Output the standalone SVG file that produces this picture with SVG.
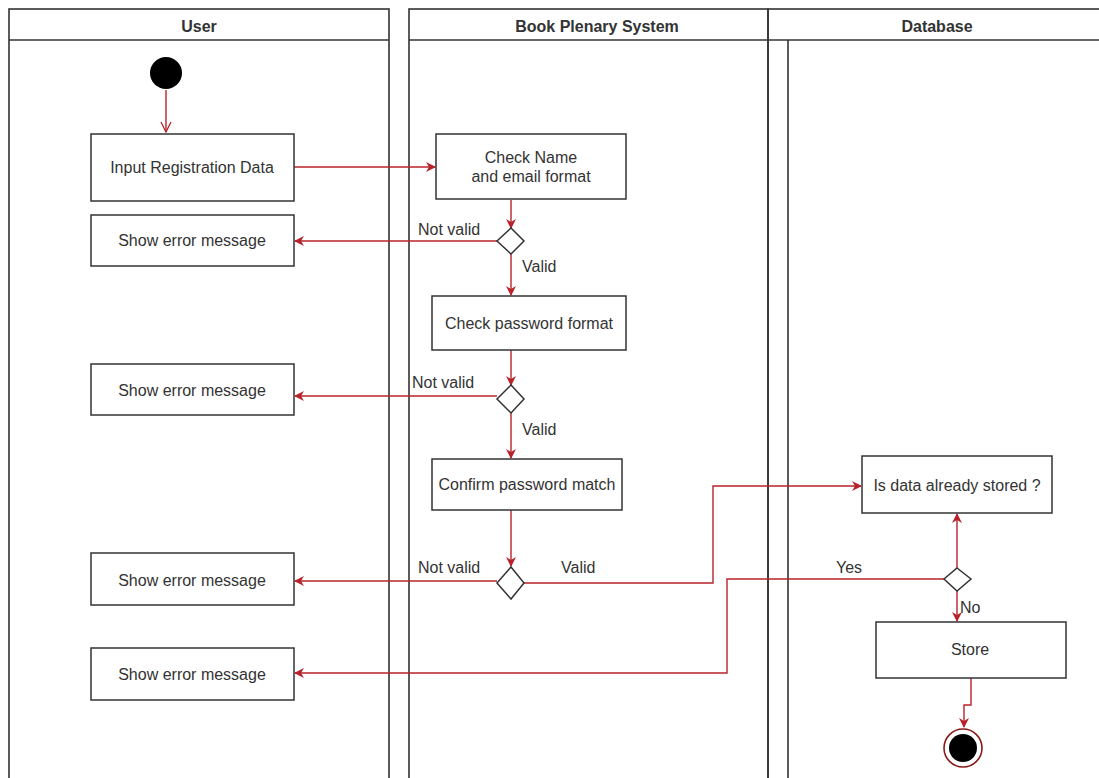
<svg xmlns="http://www.w3.org/2000/svg" width="1099" height="778" viewBox="0 0 1099 778">
<defs>
<style>
.lane{fill:none;stroke:#333;stroke-width:1.6}
.box{fill:#fff;stroke:#333;stroke-width:1.5}
.dia{fill:#fff;stroke:#333;stroke-width:1.5}
.t{font-family:"Liberation Sans",Arial,sans-serif;font-size:16px;fill:#333;text-anchor:middle}
.h{font-family:"Liberation Sans",Arial,sans-serif;font-size:16px;font-weight:bold;fill:#333;text-anchor:middle}
.lbl{font-family:"Liberation Sans",Arial,sans-serif;font-size:16px;fill:#333}
.c{fill:none;stroke:#b8232b;stroke-width:1.4}
</style>
<marker id="ah" viewBox="0 0 10 10" refX="9" refY="5" markerWidth="10" markerHeight="10" markerUnits="userSpaceOnUse" orient="auto">
<path d="M0,0 L10,5 L0,10 L3,5 z" fill="#b8232b"/>
</marker>
<marker id="open" viewBox="0 0 12 12" refX="11" refY="6" markerWidth="12" markerHeight="12" markerUnits="userSpaceOnUse" orient="auto">
<path d="M1,1 L11,6 L1,11" fill="none" stroke="#b8232b" stroke-width="1.3"/>
</marker>
</defs>
<rect width="1099" height="778" fill="#fff"/>

<g id="lane-user">
<rect class="lane" x="9" y="9" width="380" height="790"/>
<line class="lane" x1="9" y1="40" x2="389" y2="40"/>
<text class="h" x="199" y="32">User</text>
</g>
<g id="lane-system">
<rect class="lane" x="409" y="9" width="359" height="790"/>
<line class="lane" x1="409" y1="40" x2="768" y2="40"/>
<text class="h" x="597" y="32">Book Plenary System</text>
</g>
<g id="lane-database">
<rect class="lane" x="768" y="9" width="360" height="790"/>
<line class="lane" x1="768" y1="40" x2="1110" y2="40"/>
<line class="lane" x1="788" y1="40" x2="788" y2="790"/>
<text class="h" x="937" y="32">Database</text>
</g>

<g id="connectors">
<line class="c" x1="166" y1="90" x2="166" y2="132" marker-end="url(#open)"/>
<line class="c" x1="294" y1="167" x2="435" y2="167" marker-end="url(#ah)"/>
<line class="c" x1="511" y1="200" x2="511" y2="228" marker-end="url(#ah)"/>
<line class="c" x1="497" y1="241" x2="295" y2="241" marker-end="url(#ah)"/>
<line class="c" x1="511" y1="254" x2="511" y2="295" marker-end="url(#ah)"/>
<line class="c" x1="511" y1="350" x2="511" y2="385" marker-end="url(#ah)"/>
<line class="c" x1="497" y1="396" x2="295" y2="396" marker-end="url(#ah)"/>
<line class="c" x1="511" y1="413" x2="511" y2="458" marker-end="url(#ah)"/>
<line class="c" x1="511" y1="510" x2="511" y2="566" marker-end="url(#ah)"/>
<line class="c" x1="497" y1="581" x2="295" y2="581" marker-end="url(#ah)"/>
<polyline class="c" points="524,583 713,583 713,486 861,486" marker-end="url(#ah)"/>
<line class="c" x1="957" y1="568" x2="957" y2="514" marker-end="url(#ah)"/>
<polyline class="c" points="944,579 727,579 727,673 295,673" marker-end="url(#ah)"/>
<line class="c" x1="957" y1="591" x2="957" y2="621" marker-end="url(#ah)"/>
<polyline class="c" points="971,678 971,705 964,705 964,727" marker-end="url(#ah)"/>
<text class="lbl" x="418" y="235">Not valid</text>
<text class="lbl" x="522" y="272">Valid</text>
<text class="lbl" x="412" y="388">Not valid</text>
<text class="lbl" x="522" y="435">Valid</text>
<text class="lbl" x="418" y="573">Not valid</text>
<text class="lbl" x="561" y="573">Valid</text>
<text class="lbl" x="836" y="573">Yes</text>
<text class="lbl" x="960" y="613">No</text>
</g>

<g id="start"><circle cx="166" cy="73" r="16" fill="#000"/></g>
<g id="input-registration">
<rect class="box" x="91" y="134" width="203" height="67"/>
<text class="t" x="192" y="173">Input Registration Data</text>
</g>
<g id="error-1">
<rect class="box" x="91" y="215" width="203" height="51"/>
<text class="t" x="192" y="246">Show error message</text>
</g>
<g id="error-2">
<rect class="box" x="91" y="364" width="203" height="51"/>
<text class="t" x="192" y="396">Show error message</text>
</g>
<g id="error-3">
<rect class="box" x="91" y="553" width="203" height="52"/>
<text class="t" x="192" y="586">Show error message</text>
</g>
<g id="error-4">
<rect class="box" x="91" y="648" width="203" height="52"/>
<text class="t" x="192" y="680">Show error message</text>
</g>
<g id="check-name">
<rect class="box" x="436" y="134" width="190" height="65"/>
<text class="t" x="531" y="163">Check Name</text>
<text class="t" x="531" y="182">and email format</text>
</g>
<g id="decision-1"><polygon class="dia" points="511,228 524,241 511,254 497,241"/></g>
<g id="check-password">
<rect class="box" x="432" y="296" width="194" height="54"/>
<text class="t" x="529" y="329">Check password format</text>
</g>
<g id="decision-2"><polygon class="dia" points="511,385 524,399 511,413 497,399"/></g>
<g id="confirm-password">
<rect class="box" x="432" y="459" width="190" height="51"/>
<text class="t" x="527" y="490">Confirm password match</text>
</g>
<g id="decision-3"><polygon class="dia" points="511,567 524,583 511,599 497,583"/></g>
<g id="is-stored">
<rect class="box" x="862" y="456" width="190" height="57"/>
<text class="t" x="957" y="491">Is data already stored ?</text>
</g>
<g id="decision-4"><polygon class="dia" points="957,568 971,579 957,591 944,579"/></g>
<g id="store">
<rect class="box" x="876" y="622" width="190" height="56"/>
<text class="t" x="970" y="655">Store</text>
</g>
<g id="end">
<circle cx="963" cy="748" r="19" fill="#fff" stroke="#8b1a1a" stroke-width="1.6"/>
<circle cx="963" cy="748" r="14" fill="#000"/>
</g>
</svg>
